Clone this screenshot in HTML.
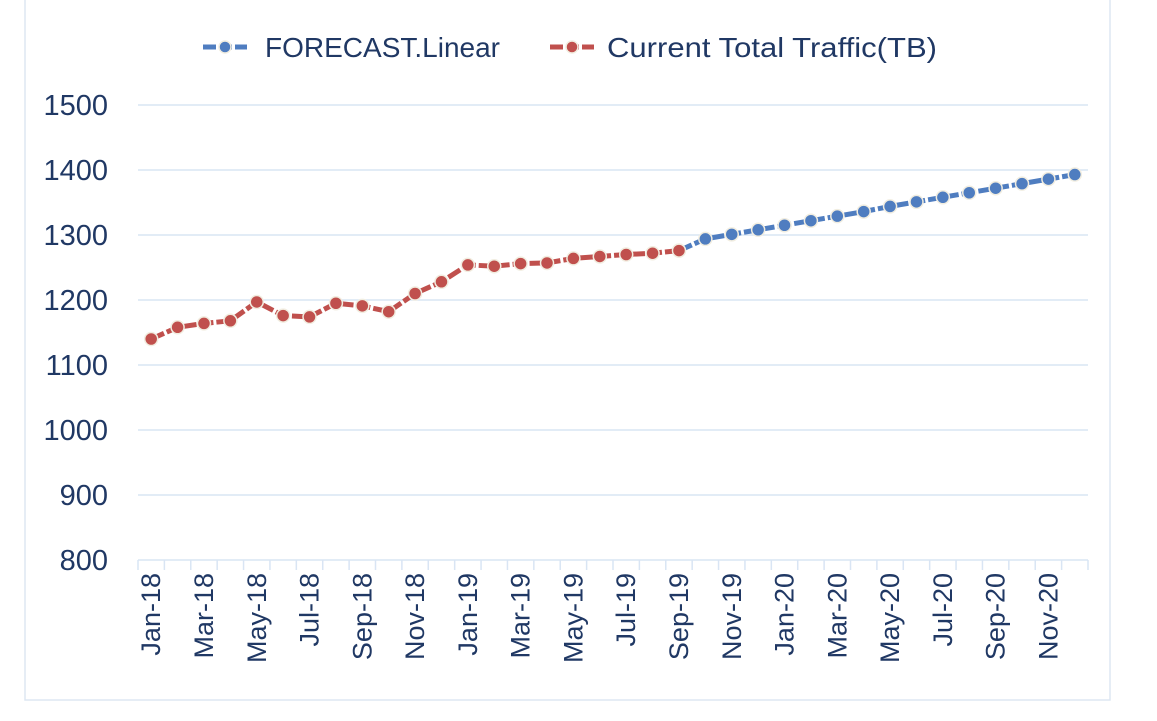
<!DOCTYPE html>
<html><head><meta charset="utf-8"><style>
html,body{margin:0;padding:0;background:#fff;}
svg{display:block;font-family:"Liberation Sans",Arial,sans-serif;}
</style></head><body>
<svg id="chart" width="1157" height="721">
<rect x="25" y="-2" width="1085" height="702" fill="#fff" stroke="#dde7f2" stroke-width="1.5"/>
<g id="grid"></g><g id="axis"></g><g id="series"></g>
<g>
<g>
<line x1="203" y1="47" x2="247" y2="47" stroke="#4f7dc0" stroke-width="5" stroke-dasharray="13,3"/>
<circle cx="225" cy="47" r="6" fill="#4f7dc0" stroke="#f1ede0" stroke-width="1.5"/>
<text x="265" y="57" font-size="28" fill="#203864" textLength="235" lengthAdjust="spacingAndGlyphs">FORECAST.Linear</text></g>
<g>
<line x1="550" y1="47" x2="594" y2="47" stroke="#c0504d" stroke-width="5" stroke-dasharray="13,3"/>
<circle cx="572" cy="47" r="6" fill="#c0504d" stroke="#f1ede0" stroke-width="1.5"/>
<text x="607" y="57" font-size="28" fill="#203864" textLength="330" lengthAdjust="spacingAndGlyphs">Current Total Traffic(TB)</text></g>
</g>
</svg>
<script>
const months=["Jan","Feb","Mar","Apr","May","Jun","Jul","Aug","Sep","Oct","Nov","Dec"];
const categories=[];
for(const y of ["18","19","20"]) for(const m of months) categories.push(m+"-"+y);
const currentValues=[1140,1158,1164,1168,1197,1176,1174,1195,1191,1182,1210,1228,1254,1252,1256,1257,1264,1267,1270,1272,1276];
const forecastValues=[null,null,null,null,null,null,null,null,null,null,null,null,null,null,null,null,null,null,null,null,1276,1294,1301,1308,1315,1322,1329,1336,1344,1351,1358,1365,1372,1379,1386,1393];
const yTicks=[800,900,1000,1100,1200,1300,1400,1500];
const NS="http://www.w3.org/2000/svg";
const X0=138,X1=1088,Y0=560,Y1=105,YMIN=800,YMAX=1500;
const bw=(X1-X0)/categories.length;
const xs=i=>X0+bw*(i+0.5);
const ys=v=>Y0-(v-YMIN)/(YMAX-YMIN)*(Y0-Y1);
function mk(tag,attrs,parent){const e=document.createElementNS(NS,tag);for(const k in attrs)e.setAttribute(k,attrs[k]);parent.appendChild(e);return e;}
const grid=document.getElementById("grid"),axis=document.getElementById("axis"),ser=document.getElementById("series");
yTicks.forEach(t=>{
 const l=mk("line",{x1:X0,x2:X1,y1:ys(t),y2:ys(t),stroke:"#d9e5f4","stroke-width":1.5},grid);
 
 
 const tx=mk("text",{x:108,y:ys(t)+10,"font-size":29,fill:"#203864","text-anchor":"end"},axis);
 tx.textContent=t;
 
 
});
for(let k=0;k<=categories.length;k++){
 const x=X0+bw*k;
 const l=mk("line",{x1:x,x2:x,y1:Y0,y2:Y0+10,stroke:"#d9e5f4","stroke-width":1.5},axis);
 
 
}
categories.forEach((c,i)=>{
 if(i%2) return;
 const x=xs(i)+9,y=573;
 const t=mk("text",{x:x,y:y,"font-size":27,fill:"#203864","text-anchor":"end",transform:`rotate(-90 ${x} ${y})`},axis);
 t.textContent=c;
 
 
});
function drawSeries(vals,color,name){
 const pts=[];vals.forEach((v,i)=>{if(v!=null)pts.push([xs(i),ys(v)]);});
 const p=mk("polyline",{points:pts.map(p=>p.join(",")).join(" "),fill:"none",stroke:color,"stroke-width":5,"stroke-dasharray":"14,3","stroke-linejoin":"round"},ser);
 
 
 pts.forEach(q=>{
  const c=mk("circle",{cx:q[0],cy:q[1],r:6.5,fill:color,stroke:"#f1ede0","stroke-width":1.5},ser);
  
  
 });
}
drawSeries(forecastValues,"#4f7dc0","forecast");
drawSeries(currentValues,"#c0504d","current-traffic");
</script>
</body></html>
